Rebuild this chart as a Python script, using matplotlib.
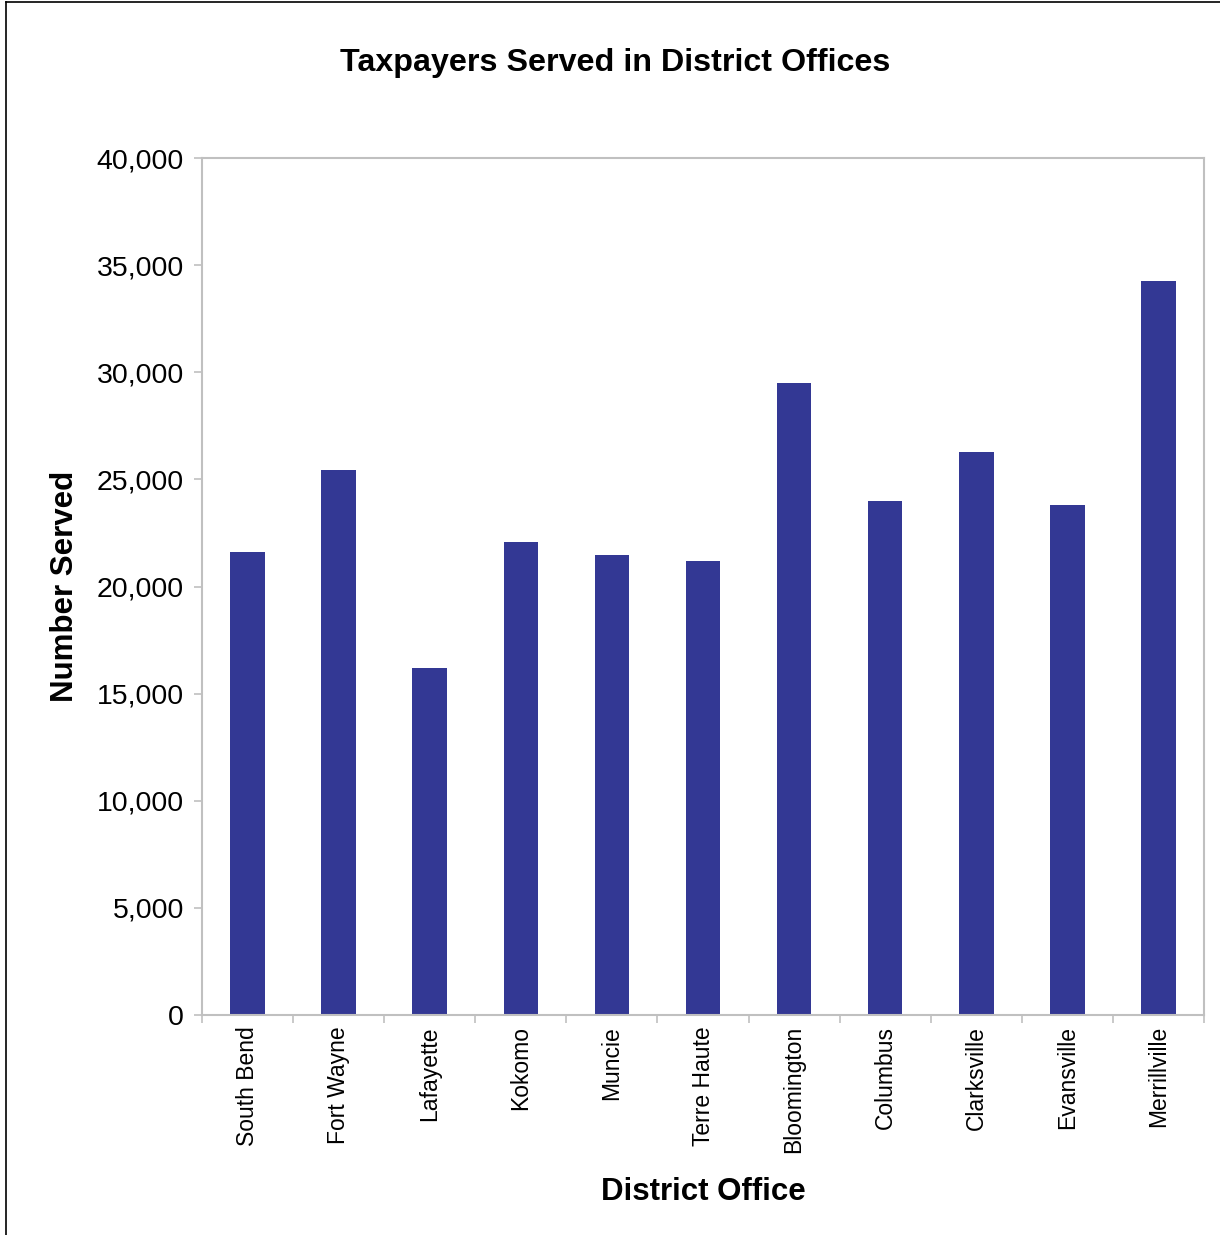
import matplotlib.pyplot as plt
import matplotlib.ticker as mticker
from matplotlib.lines import Line2D
import numpy as np

plt.rcParams['font.family'] = ['Liberation Sans', 'DejaVu Sans']

offices = ["South Bend", "Fort Wayne", "Lafayette", "Kokomo", "Muncie", "Terre Haute",
           "Bloomington", "Columbus", "Clarksville", "Evansville", "Merrillville"]
served = [21600, 25440, 16200, 22080, 21470, 21190, 29500, 23990, 26280, 23800, 34260]

BAR_COLOR = "#333894"
GRID_GRAY = "#c0c0c0"

fig = plt.figure(figsize=(12.2, 12.35), dpi=100)
ax = fig.add_axes([202 / 1220, 1 - 1015 / 1235, (1204 - 202) / 1220, (1015 - 158) / 1235])

x = np.arange(len(offices))
ax.bar(x, served, width=0.38, color=BAR_COLOR)

ax.set_xlim(-0.5, len(offices) - 0.5)
ax.set_ylim(0, 40000)
ax.yaxis.set_major_locator(mticker.MultipleLocator(5000))
ax.yaxis.set_major_formatter(mticker.StrMethodFormatter("{x:,.0f}"))

# category labels centred, tick marks between categories
ax.set_xticks(x)
ax.set_xticklabels(offices, rotation=90, fontsize=16.5)
ax.tick_params(axis="x", which="major", length=0, pad=8)
ax.set_xticks(np.arange(-0.5, len(offices) + 0.5, 1), minor=True)
ax.tick_params(axis="x", which="minor", length=6, color=GRID_GRAY, width=1.2)
ax.tick_params(axis="y", length=6, color=GRID_GRAY, width=1.2, labelsize=20.5, pad=7)

for sp in ax.spines.values():
    sp.set_color(GRID_GRAY)
    sp.set_linewidth(1.5)

ax.set_xlabel("District Office", fontsize=22.5, fontweight="bold", labelpad=17)
ax.set_ylabel("Number Served", fontsize=22.5, fontweight="bold", labelpad=12)
fig.text(615 / 1220, 1 - 63 / 1235, "Taxpayers Served in District Offices",
         ha="center", va="center", fontsize=23.2, fontweight="bold")

# outer chart border (top and left visible)
fig.add_artist(Line2D([6 / 1220, 6 / 1220], [0, 1 - 2 / 1235], color="black", lw=1.2))
fig.add_artist(Line2D([6 / 1220, 1], [1 - 2 / 1235, 1 - 2 / 1235], color="black", lw=1.2))

fig.savefig("out.png", dpi=100)
